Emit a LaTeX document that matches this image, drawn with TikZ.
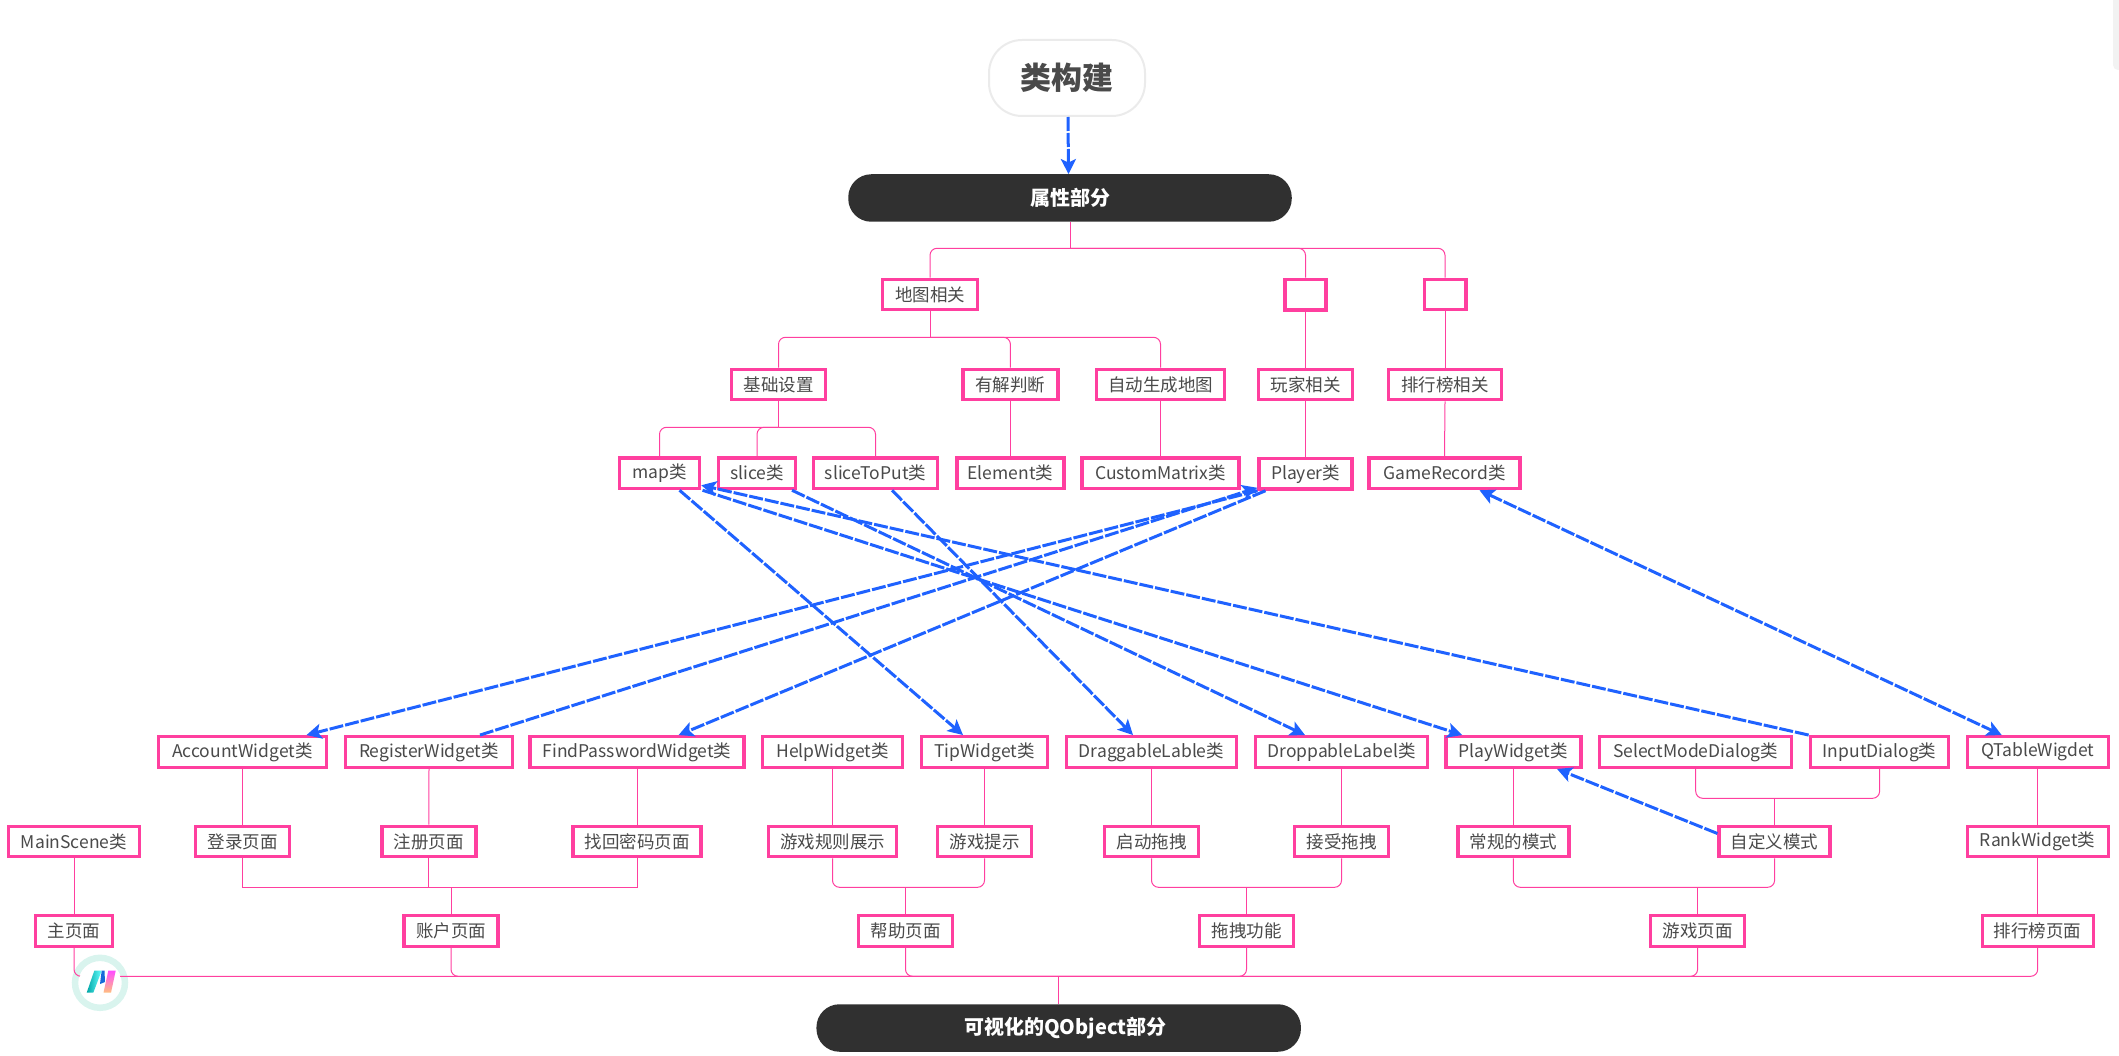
\documentclass[tikz,border=0pt]{standalone}
\usepackage{fontspec}
\setmainfont{Noto Sans CJK SC}
\usepackage{tikz}
\usetikzlibrary{arrows.meta}

\definecolor{rosepink}{HTML}{FF3F9F}
\definecolor{flowblue}{HTML}{1F62FF}
\definecolor{pilldark}{HTML}{303030}
\definecolor{labelgray}{HTML}{4A4A4A}
\definecolor{ringteal}{HTML}{D9F4EE}

\tikzset{
	classbox/.style={draw=rosepink, line width=3.4pt, fill=white, text=labelgray, minimum height=30.5pt, inner sep=0pt, font=\fontsize{17.5}{20}\selectfont},
	pill/.style={fill=pilldark, text=white, rounded corners=23pt, minimum height=47.5pt, inner sep=0pt, font=\fontsize{20}{24}\selectfont\bfseries},
	treeline/.style={draw=rosepink, line width=1pt},
	elbow/.style={treeline, rounded corners=7pt},
	flow/.style={draw=flowblue, line width=3pt, dash pattern=on 14pt off 2pt, >={Stealth[length=15pt,width=15pt,inset=3.5pt]}},
}

\begin{document}
\begin{tikzpicture}[x=1pt, y=-1pt]
	\useasboundingbox (0,0) rectangle (2119,1056);

	% faint tab at the top right edge
	\fill [black!5, rounded corners=5pt] (2113,-10) rectangle (2130,70);

	% heights of the horizontal runs
	\coordinate (busTop) at (0,248.3);
	\coordinate (busMap) at (0,337.3);
	\coordinate (busBase) at (0,427.3);
	\coordinate (busDialog) at (0,798.3);
	\coordinate (busPage) at (0,887.3);
	\coordinate (busBottom) at (0,976.3);

	% title and the two dark bars
	\node (title) at (1067,78) [draw=black!8, line width=2pt, fill=white, text=labelgray, rounded corners=33pt, minimum width=156pt, minimum height=76pt, font=\fontsize{31}{36}\selectfont\bfseries] {类构建};
	\node (attrs) at (1070,198) [pill, minimum width=443.5pt] {属性部分};
	\node (visual) at (1058.7,1028) [pill, minimum width=484.5pt] {\hspace*{13pt}可视化的QObject部分};

	% upper part
	\node (mapgroup) at (930,294.5) [classbox, minimum width=94.6pt] {地图相关};
	\node (blankA) at (1305.5,294.7) [classbox, minimum width=41pt] {};
	\node (blankB) at (1445,294.5) [classbox, minimum width=41.6pt] {};

	\node (basics) at (778.5,384.5) [classbox, minimum width=94pt] {基础设置};
	\node (solvable) at (1010.4,384.5) [classbox, minimum width=95pt] {有解判断};
	\node (automap) at (1160.5,384.5) [classbox, minimum width=128pt] {自动生成地图};
	\node (playergroup) at (1305.5,384.5) [classbox, minimum width=94pt] {玩家相关};
	\node (rankgroup) at (1445,384.5) [classbox, minimum width=113pt] {排行榜相关};

	\node (map) at (659.5,473.3) [classbox, minimum width=80pt] {map类};
	\node (slice) at (757,473.3) [classbox, minimum width=77pt] {slice类};
	\node (slicetoput) at (875.5,473.3) [classbox, minimum width=124pt] {sliceToPut类};
	\node (element) at (1010.4,473.3) [classbox, minimum width=107pt] {Element类};
	\node (custommatrix) at (1160.5,473.3) [classbox, minimum width=157pt] {CustomMatrix类};
	\node (player) at (1305.5,473.8) [classbox, minimum width=93pt] {Player类};
	\node (gamerecord) at (1444.5,473.3) [classbox, minimum width=151pt] {GameRecord类};

	% lower part, widget row
	\node (account) at (242.5,752) [classbox, minimum width=168pt] {AccountWidget类};
	\node (register) at (429,752) [classbox, minimum width=167pt] {RegisterWidget类};
	\node (findpass) at (637,752) [classbox, minimum width=214pt] {FindPasswordWidget类};
	\node (help) at (832.5,752) [classbox, minimum width=140pt] {HelpWidget类};
	\node (tip) at (984.5,752) [classbox, minimum width=126pt] {TipWidget类};
	\node (drag) at (1151.5,752) [classbox, minimum width=170pt] {DraggableLable类};
	\node (drop) at (1341.5,752) [classbox, minimum width=172pt] {DroppableLabel类};
	\node (play) at (1513.3,752) [classbox, minimum width=135pt] {PlayWidget类};
	\node (selectmode) at (1695.7,752) [classbox, minimum width=192pt] {SelectModeDialog类};
	\node (input) at (1879.6,752) [classbox, minimum width=138pt] {InputDialog类};
	\node (table) at (2037.7,752) [classbox, minimum width=141pt] {QTableWigdet};

	% lower part, feature row
	\node (mainscene) at (74,841.5) [classbox, minimum width=131pt] {MainScene类};
	\node (login) at (242.5,841.5) [classbox, minimum width=94pt] {登录页面};
	\node (signup) at (428.8,841.5) [classbox, minimum width=94pt] {注册页面};
	\node (recover) at (637,841.5) [classbox, minimum width=128pt] {找回密码页面};
	\node (rules) at (832.5,841.5) [classbox, minimum width=128pt] {游戏规则展示};
	\node (hint) at (984.5,841.5) [classbox, minimum width=94pt] {游戏提示};
	\node (dragstart) at (1151.5,841.5) [classbox, minimum width=94pt] {启动拖拽};
	\node (dragend) at (1341.5,841.5) [classbox, minimum width=94pt] {接受拖拽};
	\node (normal) at (1513.3,841.5) [classbox, minimum width=111pt] {常规的模式};
	\node (custom) at (1774.6,841.5) [classbox, minimum width=111pt] {自定义模式};
	\node (rankwidget) at (2037.7,841.5) [classbox, minimum width=141pt] {RankWidget类};

	% lower part, page row
	\node (mainpage) at (74,931) [classbox, minimum width=77pt] {主页面};
	\node (accountpage) at (451,931) [classbox, minimum width=94pt] {账户页面};
	\node (helppage) at (905.5,931) [classbox, minimum width=94pt] {帮助页面};
	\node (dragpage) at (1246.5,931) [classbox, minimum width=94pt] {拖拽功能};
	\node (gamepage) at (1697.6,931) [classbox, minimum width=94pt] {游戏页面};
	\node (rankpage) at (2037.7,931) [classbox, minimum width=111pt] {排行榜页面};

	% ring of the badge goes under the lines
	\draw [ringteal, line width=6.5pt] (100,982.8) circle [radius=25];

	% tree lines, top half
	\draw [treeline] (attrs.south) -- (attrs.south |- busTop);
	\draw [elbow] (attrs.south |- busTop) -| (mapgroup.north);
	\draw [elbow] (attrs.south |- busTop) -| (blankA.north);
	\draw [elbow] (attrs.south |- busTop) -| (blankB.north);
	\draw [treeline] (blankA.south) -- (playergroup.north);
	\draw [treeline] (blankB.south) -- (rankgroup.north);
	\draw [treeline] (mapgroup.south) -- (mapgroup.south |- busMap);
	\draw [elbow] (mapgroup.south |- busMap) -| (basics.north);
	\draw [elbow] (mapgroup.south |- busMap) -| (solvable.north);
	\draw [elbow] (mapgroup.south |- busMap) -| (automap.north);
	\draw [treeline] (basics.south) -- (basics.south |- busBase);
	\draw [elbow] (basics.south |- busBase) -| (map.north);
	\draw [elbow] (basics.south |- busBase) -| (slice.north);
	\draw [elbow] (basics.south |- busBase) -| (slicetoput.north);
	\draw [treeline] (solvable.south) -- (element.north);
	\draw [treeline] (automap.south) -- (custommatrix.north);
	\draw [treeline] (playergroup.south) -- (player.north);
	\draw [treeline] (rankgroup.south) -- (gamerecord.north);

	% tree lines, bottom half
	\draw [treeline] (account.south) -- (login.north);
	\draw [treeline] (register.south) -- (signup.north);
	\draw [treeline] (findpass.south) -- (recover.north);
	\draw [treeline] (help.south) -- (rules.north);
	\draw [treeline] (tip.south) -- (hint.north);
	\draw [treeline] (drag.south) -- (dragstart.north);
	\draw [treeline] (drop.south) -- (dragend.north);
	\draw [treeline] (play.south) -- (normal.north);
	\draw [treeline] (table.south) -- (rankwidget.north);
	\draw [treeline] (rankwidget.south) -- (rankpage.north);
	\draw [treeline] (mainscene.south) -- (mainpage.north);

	\draw [elbow] (selectmode.south) |- (custom.north |- busDialog);
	\draw [elbow] (input.south) |- (custom.north |- busDialog);
	\draw [treeline] (custom.north |- busDialog) -- (custom.north);

	\draw [treeline] (login.south) |- (accountpage.north |- busPage);
	\draw [treeline] (signup.south) -- (signup.south |- busPage);
	\draw [treeline] (recover.south) |- (accountpage.north |- busPage);
	\draw [treeline] (accountpage.north |- busPage) -- (accountpage.north);

	\draw [elbow] (rules.south) |- (helppage.north |- busPage);
	\draw [elbow] (hint.south) |- (helppage.north |- busPage);
	\draw [treeline] (helppage.north |- busPage) -- (helppage.north);

	\draw [elbow] (dragstart.south) |- (dragpage.north |- busPage);
	\draw [elbow] (dragend.south) |- (dragpage.north |- busPage);
	\draw [treeline] (dragpage.north |- busPage) -- (dragpage.north);

	\draw [elbow] (normal.south) |- (gamepage.north |- busPage);
	\draw [elbow] (custom.south) |- (gamepage.north |- busPage);
	\draw [treeline] (gamepage.north |- busPage) -- (gamepage.north);

	\draw [elbow] (mainpage.south) |- (visual.north |- busBottom);
	\draw [elbow] (accountpage.south) |- (visual.north |- busBottom);
	\draw [elbow] (helppage.south) |- (visual.north |- busBottom);
	\draw [elbow] (dragpage.south) |- (visual.north |- busBottom);
	\draw [elbow] (gamepage.south) |- (visual.north |- busBottom);
	\draw [elbow] (rankpage.south) |- (visual.north |- busBottom);
	\draw [treeline] (visual.north |- busBottom) -- (visual.north);

	% blue arrows
	\draw [flow, ->] ([xshift=1pt]title.south) -- ([xshift=-1.5pt]attrs.north);
	\draw [flow, ->] ([xshift=20pt]map.south) -- ([xshift=-21.5pt]tip.north);
	\draw [flow, ->] ([xshift=43pt]map.south) -- ([xshift=-51pt]play.north);
	\draw [flow, ->] ([xshift=35pt]slice.south) -- ([xshift=-36.5pt]drop.north);
	\draw [flow, ->] ([xshift=16.5pt]slicetoput.south) -- ([xshift=-18.5pt]drag.north);
	\draw [flow, ->] ([xshift=-71pt]input.north) -- ([yshift=5pt]map.south east);
	\draw [flow, ->] ([xshift=-48pt]player.south) -- ([xshift=64pt]account.north);
	\draw [flow, ->] ([xshift=51pt]register.north) -- ([yshift=3pt]player.south west);
	\draw [flow, ->] ([xshift=-40pt]player.south) -- ([xshift=41.6pt]findpass.north);
	\draw [flow, <->] ([xshift=35pt]gamerecord.south) -- ([xshift=-36pt]table.north);
	\draw [flow, ->] ([yshift=8pt]custom.west) -- ([xshift=43.7pt]play.south);

	% badge
	\fill [white] (100,982.8) circle [radius=21];
	\shade [left color=teal!70!cyan, right color=cyan!60!white] (86.7,992.7) -- (93.3,992.7) -- (101.7,970.7) -- (94.3,970.7) -- cycle;
	\fill [flowblue!70!teal] (101.7,970.7) -- (104.5,970.7) -- (105,982) -- (100,984) -- cycle;
	\shade [bottom color=orange!50!white, top color=magenta!70!white] (108.3,970.7) -- (115.7,970.7) -- (111,992.7) -- (103.5,992.7) -- cycle;
\end{tikzpicture}
\end{document}
